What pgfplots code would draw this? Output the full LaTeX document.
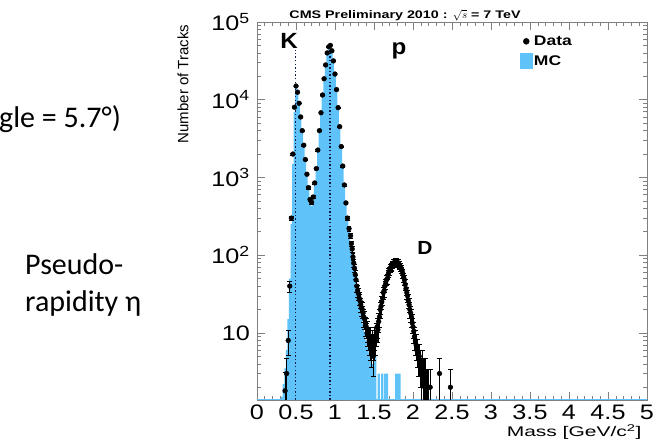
\documentclass[border=0pt]{standalone}
\usepackage{fontspec}
\usepackage{pgfplots}
\usepackage{pgfplotstable}
\pgfplotsset{compat=1.18}
\setmainfont{Liberation Sans}
\newfontfamily\tickf[FakeStretch=1.2]{Liberation Sans}
\newfontfamily\titlef[FakeStretch=1.3]{Liberation Sans}
\newfontfamily\legf[FakeStretch=1.25]{Liberation Sans}
\newfontfamily\xlabf[FakeStretch=1.5]{Liberation Sans}
\newfontfamily\pkf[FakeStretch=1.1]{Liberation Sans}
\newfontfamily\sidef{Carlito}
\definecolor{mc}{RGB}{95,195,250}
\definecolor{dotline}{RGB}{15,30,70}

\pgfplotstableread{
x y e
0.36 1.8 1.3
0.38 3 1.7
0.40 8 2.8
0.42 40 6.3
0.44 300 17
0.46 2000 45
0.48 8000 89
0.50 15000 122
0.52 12500 112
0.54 9000 95
0.56 6000 77
0.58 4000 63
0.60 2600 51
0.62 1700 41
0.64 1100 33
0.66 740 27
0.68 520 23
0.70 480 22
0.72 560 24
0.74 850 29
0.76 1300 36
0.78 2250 47
0.80 4000 63
0.82 6800 82
0.84 11500 107
0.86 18600 136
0.88 28000 167
0.90 40000 200
0.92 48000 219
0.94 50000 224
0.96 42600 206
0.98 31600 178
1.00 21400 146
1.02 13500 116
1.04 7900 89
1.06 4500 67
1.08 2500 50
1.10 1400 37
1.12 800 28
1.14 470 22
1.16 300 17
1.18 220 15
1.20 178 13
1.21 141 12
1.22 120 11
1.23 95 10
1.24 79 9
1.25 68 8
1.26 56 7.5
1.27 48 7
1.28 40 6.3
1.29 35 5.9
1.30 32 5.7
1.31 28 5.3
1.32 26 5.1
1.33 23 4.8
1.34 21 4.6
1.35 20 4.5
1.36 18 4.2
1.37 16 4
1.38 15 3.9
1.39 12.6 3.5
1.40 12 3.5
1.41 10 3.2
1.42 11 3.3
1.43 9 3
1.44 8 2.8
1.45 7 2.6
1.46 9 3
1.47 6 2.4
1.48 8 2.8
1.49 5 2.2
1.50 7 2.6
1.51 9 3
1.52 8 2.8
1.53 10 3.2
1.54 12 3.5
1.55 11 3.3
1.56 14 3.7
1.57 16 4
1.58 20 4.5
1.59 22 4.7
1.60 25 5
1.61 28 5.3
1.62 33 5.7
1.63 35 5.9
1.64 40 6.3
1.65 43 6.6
1.66 48 6.9
1.67 50 7.1
1.68 56 7.5
1.69 60 7.7
1.70 63 7.9
1.71 68 8.2
1.72 71 8.4
1.73 72 8.5
1.74 76 8.7
1.75 79 8.9
1.76 80 8.9
1.77 83 9.1
1.78 80 8.9
1.79 83 9.1
1.80 81 9
1.81 79 8.9
1.82 76 8.7
1.83 74 8.6
1.84 71 8.4
1.85 66 8.1
1.86 63 7.9
1.87 58 7.6
1.88 52 7.2
1.89 48 6.9
1.90 42 6.5
1.91 37 6.1
1.92 33 5.7
1.93 30 5.5
1.94 26 5.1
1.95 23 4.8
1.96 20 4.5
1.97 18 4.2
1.98 16 4
1.99 13.5 3.7
2.00 12 3.5
2.01 10.5 3.2
2.02 9 3
2.03 8 2.8
2.04 7 2.6
2.05 6 2.4
2.06 6 2.4
2.07 5 2.2
2.08 5 2.2
2.09 4 2
2.10 4 2
2.11 3 1.7
2.12 4 2
2.13 3 1.7
2.14 3 1.7
2.15 2 1.4
2.16 3 1.7
2.17 2 1.4
2.18 2 1.4
2.20 2 1.4
2.22 2 1.4
2.34 3 1.7
2.48 2 1.4
}\datatable

\pgfplotstableread{
x y
0.29 0.5
0.31 1.5
0.33 2.2
0.35 3.5
0.37 6
0.39 15
0.41 50
0.43 250
0.45 1500
0.47 7000
0.49 14000
0.51 13500
0.53 9500
0.55 6200
0.57 4100
0.59 2700
0.61 1750
0.63 1100
0.65 720
0.67 500
0.69 430
0.71 500
0.73 800
0.75 1300
0.77 2200
0.79 3900
0.81 6700
0.83 11500
0.85 18500
0.87 28000
0.89 40000
0.91 48000
0.93 50000
0.95 42000
0.97 31000
0.99 21000
1.01 13000
1.03 7600
1.05 4300
1.07 2400
1.09 1350
1.11 780
1.13 460
1.15 290
1.17 200
1.19 150
1.21 110
1.23 80
1.25 55
1.27 40
1.29 30
1.31 22
1.33 17
1.35 13
1.37 10
1.39 8
1.41 6.5
1.43 5.5
1.45 4.5
1.47 4
1.49 5
1.53 1
1.545 3
1.575 1
1.59 3
1.62 1
1.63 3
1.68 1
1.77 3
1.84 1
2.15 2
2.19 0.5
2.20 0.5
}\mctable

\begin{document}
\begin{tikzpicture}
\useasboundingbox (-257pt,-46pt) rectangle (407pt,400pt);
\begin{axis}[
  at={(0pt,0pt)}, anchor=south west,
  scale only axis, width=390pt, height=378pt,
  xmin=0, xmax=5, ymode=log, ymin=1.37, ymax=100000,
  log origin y=infty,
  xtick={0,0.5,1,1.5,2,2.5,3,3.5,4,4.5,5},
  xticklabels={0,0.5,1,1.5,2,2.5,3,3.5,4,4.5,5},
  minor x tick num=4,
  ytick={10,100,1000,10000,100000},
  yticklabels={10,10\textsuperscript{2},10\textsuperscript{3},10\textsuperscript{4},10\textsuperscript{5}},
  minor ytick={2,3,4,5,6,7,8,9,20,30,40,50,60,70,80,90,200,300,400,500,600,700,800,900,2000,3000,4000,5000,6000,7000,8000,9000,20000,30000,40000,50000,60000,70000,80000,90000},
  tick align=inside,
  major tick length=8pt, minor tick length=4pt,
  tick style={gray, line width=0.6pt},
  axis line style={gray, line width=0.8pt},
  xticklabel style={font=\tickf\fontsize{21}{21}\selectfont, inner sep=1pt, yshift=-4pt},
  yticklabel style={font=\tickf\fontsize{21}{21}\selectfont, inner sep=1pt, xshift=-6pt},
  legend style={at={(0.674,0.968)}, anchor=north west, draw=none, fill=none,
    inner sep=0pt, row sep=5pt, font=\legf\bfseries\fontsize{14}{14}\selectfont,
    nodes={inner sep=1.5pt}},
  legend cell align=left,
]
\addlegendimage{legend image code/.code={\fill[black] (6pt,0pt) circle (3pt);}}
\addlegendentry{Data}
\addlegendimage{legend image code/.code={\fill[mc] (0pt,-7.5pt) rectangle (12pt,7.5pt);}}
\addlegendentry{MC}

\addplot[forget plot, fill=mc, draw=none, const plot mark left] table[x=x,y=y] {\mctable} \closedcycle;
\addplot[forget plot, mc, line width=2.5pt] coordinates {(0,1.37) (5,1.37)};
\addplot[forget plot, dotline, line width=1.6pt, dash pattern=on 1.4pt off 2.2pt] coordinates {(0.494,1) (0.494,44000)};
\addplot[forget plot, dotline, line width=1.6pt, dash pattern=on 1.4pt off 2.2pt] coordinates {(0.938,1) (0.938,42000)};
\addplot[forget plot, only marks, mark=*, mark size=2.4pt, black,
  error bars/.cd, y dir=both, y explicit,
  error bar style={line width=0.8pt, black}]
  table[x=x, y=y, y error=e] {\datatable};
\end{axis}
\node[font=\titlef\bfseries\fontsize{11}{11}\selectfont] at (148pt,385pt) {CMS Preliminary 2010 : $\sqrt{s}$ = 7 TeV};
\node[rotate=90, font=\fontsize{15}{15}\selectfont] at (-74pt,316pt) {Number of Tracks};
\node[anchor=base east, font=\xlabf\fontsize{14}{14}\selectfont] at (388pt,-37pt) {Mass [GeV/c\textsuperscript{2}]};
\node[anchor=base, font=\pkf\bfseries\fontsize{22}{22}\selectfont] at (32pt,351pt) {K};
\node[anchor=base, font=\pkf\bfseries\fontsize{22}{22}\selectfont] at (142pt,345pt) {p};
\node[anchor=base, font=\pkf\bfseries\fontsize{19}{19}\selectfont] at (168pt,145pt) {D};
\node[anchor=base west, inner sep=0pt, font=\sidef\fontsize{30}{30}\selectfont] at (-258pt,272pt) {gle = 5.7°)};
\node[anchor=base west, inner sep=0pt, font=\sidef\fontsize{30}{30}\selectfont] at (-232pt,125pt) {Pseudo-};
\node[anchor=base west, inner sep=0pt, font=\sidef\fontsize{30}{30}\selectfont] at (-232pt,88pt) {rapidity η};
\end{tikzpicture}
\end{document}
